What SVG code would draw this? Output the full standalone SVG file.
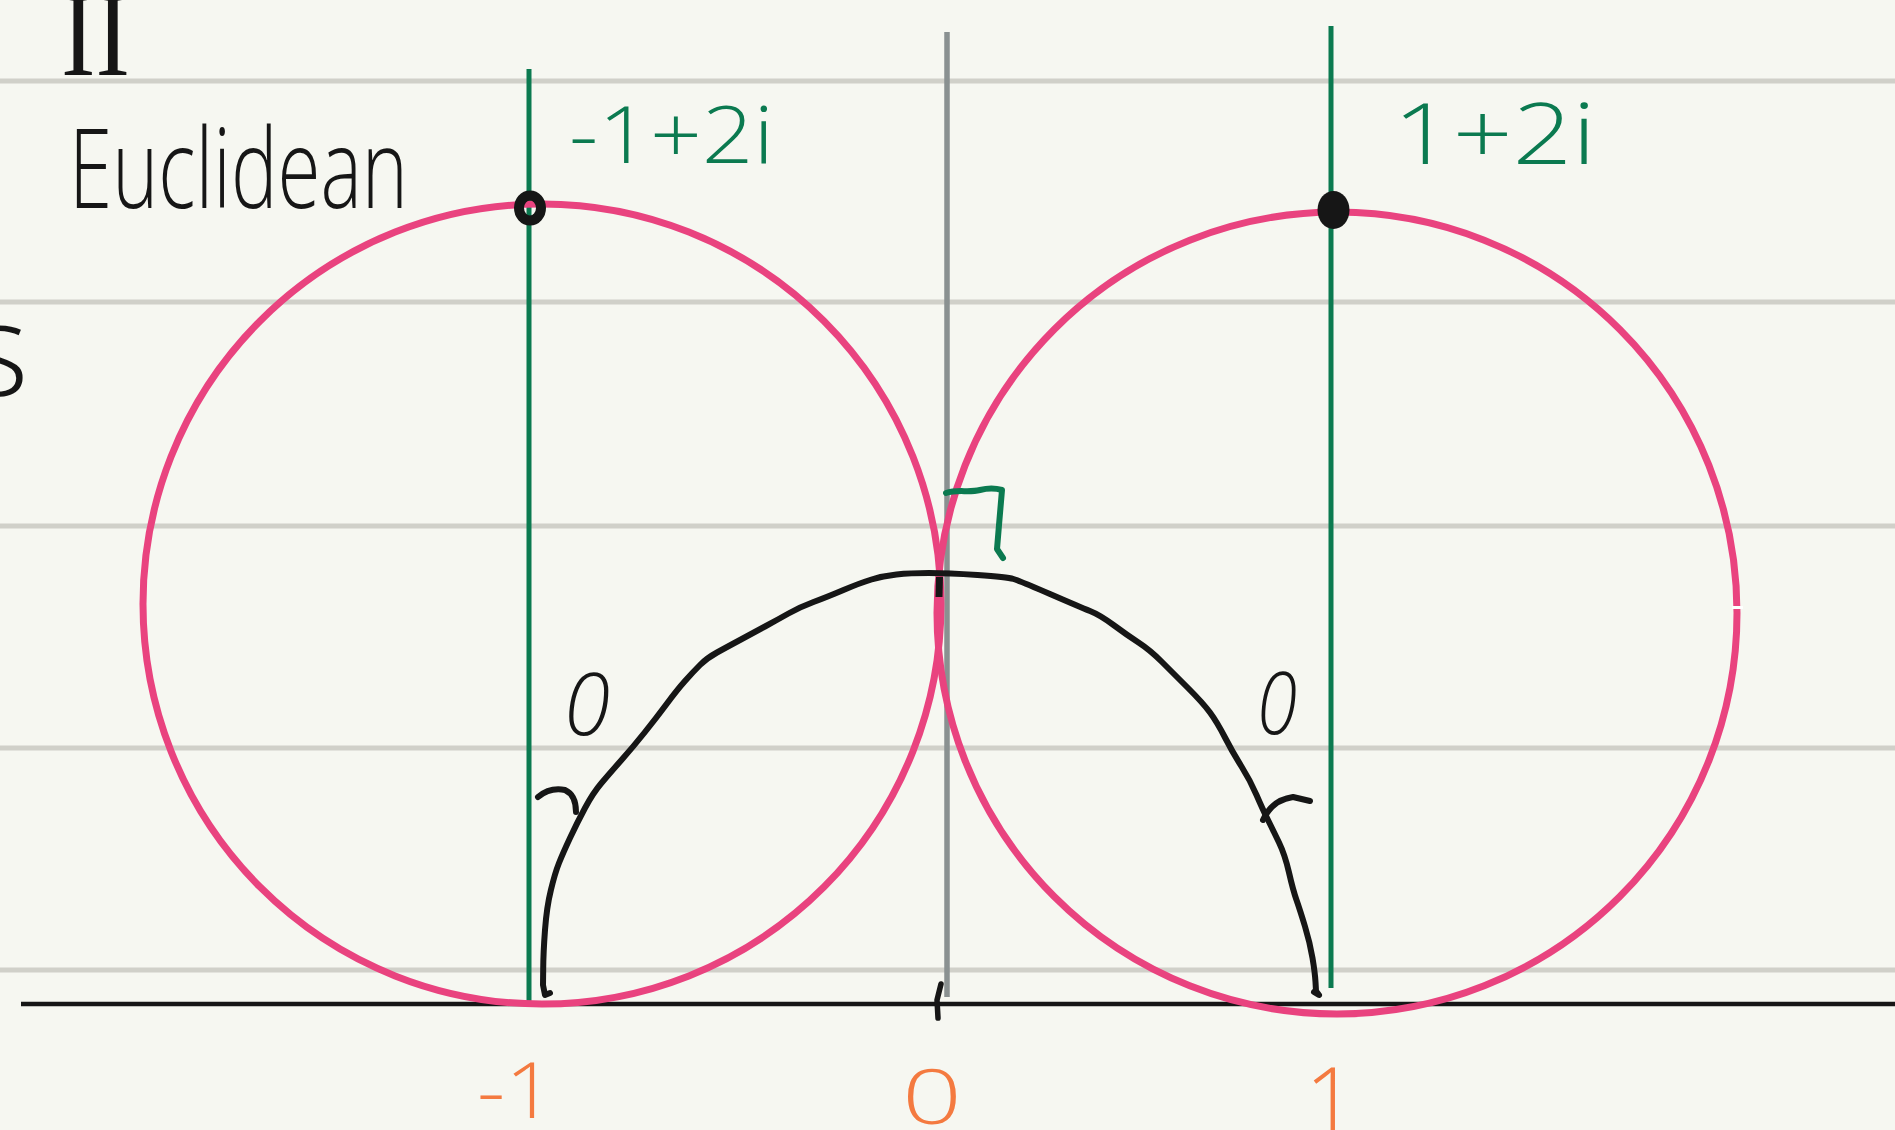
<svg xmlns="http://www.w3.org/2000/svg" width="1895" height="1130" viewBox="0 0 1895 1130">
<style>
.rule{stroke:#d0d0c9;stroke-width:5;fill:none}
.green{stroke:#0b7a50;stroke-width:5;fill:none}
.pink{stroke:#e9437f;stroke-width:7;fill:none}
.ink{stroke:#161616;stroke-width:6;fill:none;stroke-linecap:round;stroke-linejoin:round}
.hand{font-family:"Open Sans","Liberation Sans",sans-serif;font-weight:300}
.blk{fill:#161616}
.grn{fill:#0b7a50}
.org{fill:#f47a40}
</style>
<rect x="0" y="0" width="1895" height="1130" fill="#f6f7f1"/>
<g id="ruled-lines">
<line class="rule" x1="0" y1="81" x2="1895" y2="81"/>
<line class="rule" x1="0" y1="302" x2="1895" y2="302"/>
<line class="rule" x1="0" y1="526" x2="1895" y2="526"/>
<line class="rule" x1="0" y1="748" x2="1895" y2="748"/>
<line class="rule" x1="0" y1="970" x2="1895" y2="970"/>
</g>
<g id="axes">
<line x1="21" y1="1004" x2="1895" y2="1004" stroke="#161616" stroke-width="4.5"/>
<line x1="947" y1="32" x2="947" y2="997" stroke="#8a9191" stroke-width="5.5"/>
<line class="green" x1="529" y1="69" x2="529" y2="1001"/>
<line class="green" x1="1331" y1="26" x2="1331" y2="988"/>
</g>
<g id="circles">
<ellipse class="pink" cx="542" cy="604" rx="399" ry="400"/>
<ellipse class="pink" cx="1337" cy="613" rx="400" ry="401"/>
<rect x="1732" y="606" width="11" height="3" fill="#ffffff"/>
</g>
<g id="right-angle">
<path class="green" style="stroke-width:6;stroke-linecap:round;stroke-linejoin:round" d="M946 493 C958 489 968 493 980 490 C988 488 995 488 1002 490 L999 525 L997 549 L1003 558"/>
</g>
<g id="geodesic">
<path class="ink" d="M550 993 L545 995 L543 985 L543.2 969 Q543.3 953 545 930 Q546.7 907 550.9 890 Q555 873 559 863 Q563 853 570 838 Q577 823 585 808 Q593 793 601.5 783 Q610 773 621.5 760 Q633 747 645 732 Q657 717 667 703.5 Q677 690 685 681 Q693 672 700 665 Q707 658 717 652.5 Q727 647 740 640 Q753 633 765 626.5 Q777 620 788.5 613.5 Q800 607 813.5 602 Q827 597 843.5 590 Q860 583 871.5 579.5 Q883 576 896.5 574.5 Q910 573 929 573 Q948 573 977.5 575 Q1007 577 1013.5 579 Q1020 581 1050 594 Q1080 607 1090 611 Q1100 615 1113.5 625 Q1127 635 1138.5 642.5 Q1150 650 1161.5 661.5 Q1173 673 1188 688 Q1203 703 1210 712.5 Q1217 722 1225 737.5 Q1233 753 1241.5 766.5 Q1250 780 1256.5 795 Q1263 810 1268 820 Q1273 830 1279 842.5 Q1285 855 1289 872.5 Q1293 890 1296.5 900 Q1300 910 1305 926.5 Q1310 943 1312.5 958 Q1315 973 1315.5 982 L1316 991 L1319 995 L1314 992"/>
<line x1="939.5" y1="577" x2="939" y2="597" stroke="#161616" stroke-width="7"/>
<path d="M941 984 L937 1000 L938 1018" stroke="#161616" stroke-width="5.5" fill="none" stroke-linecap="round"/>
<path class="ink" d="M538 797 Q550 787 565 790 Q576 795 576 812"/>
<path class="ink" d="M1263 820 Q1272 800 1293 797 L1310 801"/>
</g>
<g id="points">
<ellipse cx="530" cy="208" rx="11" ry="12.5" fill="none" stroke="#161616" stroke-width="10"/>
<ellipse cx="1333.5" cy="210" rx="16" ry="19" fill="#161616"/>
</g>
<g id="labels">
<text x="61" y="75" font-family="'Liberation Serif','DejaVu Serif',serif" font-size="120" class="blk" textLength="69" lengthAdjust="spacingAndGlyphs">II</text>
<text class="hand blk" x="69" y="208" font-size="110" textLength="339" lengthAdjust="spacingAndGlyphs">Euclidean</text>
<text class="hand blk" x="-32" y="396" font-size="130">s</text>
<text class="hand grn" x="569" y="163" font-size="80" textLength="205" lengthAdjust="spacingAndGlyphs">-1+2i</text>
<text class="hand grn" x="1393" y="164" font-size="84" textLength="203" lengthAdjust="spacingAndGlyphs">1+2i</text>
<text class="hand blk" x="564" y="735" font-size="86" font-style="italic" textLength="46" lengthAdjust="spacingAndGlyphs">0</text>
<text class="hand blk" x="1257" y="734" font-size="86" font-style="italic" textLength="40" lengthAdjust="spacingAndGlyphs">0</text>
<text class="hand org" x="477" y="1118" font-size="77" textLength="78" lengthAdjust="spacingAndGlyphs">-1</text>
<text class="hand org" x="902" y="1124" font-size="76" textLength="60" lengthAdjust="spacingAndGlyphs">0</text>
<text class="hand org" x="1305" y="1132" font-size="90">1</text>
</g>
</svg>
